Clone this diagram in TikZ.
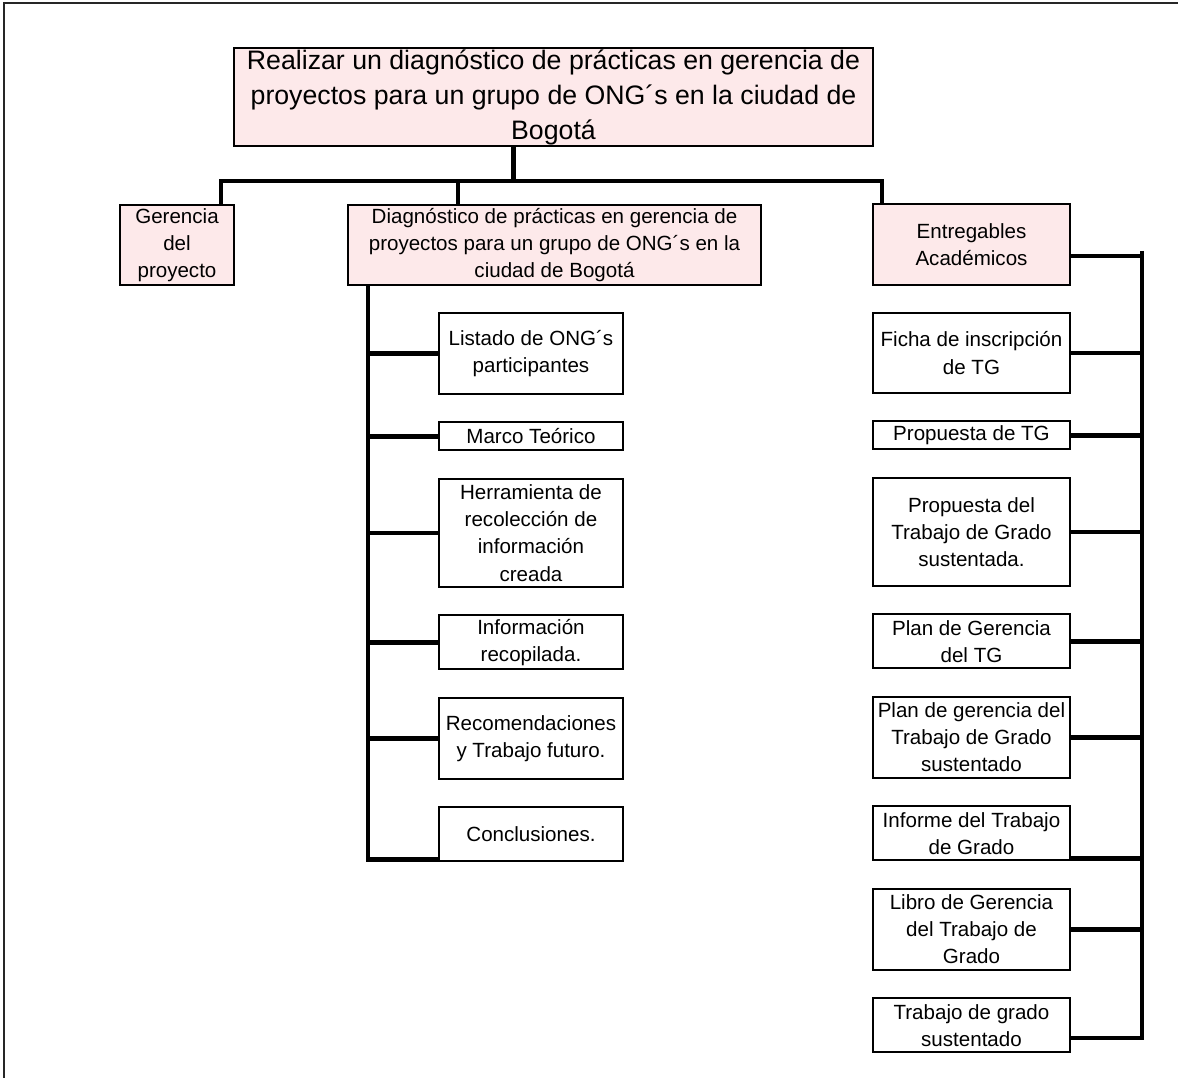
\documentclass[tikz,border=0pt]{standalone}
\usepackage{fontspec}
\setmainfont{Liberation Sans}
\usepackage{tikz}
\usetikzlibrary{positioning}
\definecolor{headpink}{RGB}{253,233,234}

\begin{document}
\begin{tikzpicture}[x=0.02cm, y=-0.02cm, node distance=5.7mm,
    box/.style={draw, line width=0.4mm, align=center, inner sep=0pt, outer sep=0pt, font=\fontsize{11.7pt}{15.5pt}\selectfont},
    head/.style={box, fill=headpink},
    part/.style={box, fill=white, minimum width=36.8mm},
    deliv/.style={box, fill=white, minimum width=39.4mm},
    link/.style={line width=0.9mm}]
    \useasboundingbox (0,0) rectangle (1178,1078);
    % Frame
    \draw[line width=0.4mm, black!85] (4,1078) -- (4,3) -- (1178,3);
    % Levels
    \node[head, minimum width=128mm, minimum height=19.6mm, font=\fontsize{15.2pt}{19.9pt}\selectfont] (obj) at (553.5,97) {Realizar un diagnóstico de prácticas en gerencia de\\proyectos para un grupo de ONG´s en la ciudad de\\Bogotá};
    \node[head, minimum width=22.8mm, minimum height=16mm] (ger) at (177,245) {Gerencia\\del\\proyecto};
    \node[head, minimum width=82.6mm, minimum height=16mm] (diag) at (554.5,245) {Diagnóstico de prácticas en gerencia de\\proyectos para un grupo de ONG´s en la\\ciudad de Bogotá};
    \node[head, minimum width=39.4mm, minimum height=16.2mm] (ent) at (971.5,244.5) {Entregables\\Académicos};
    % Diagnostic parts
    \node[part, anchor=north west, minimum height=16.2mm] (list) at (439,313) {Listado de ONG´s\\participantes};
    \node[part, below=of list, minimum height=5.6mm] (marco) {Marco Teórico};
    \node[part, below=of marco, minimum height=21.6mm] (herr) {Herramienta de\\recolección de\\información\\creada};
    \node[part, below=of herr, minimum height=10.8mm] (info) {Información\\recopilada.};
    \node[part, below=of info, minimum height=16.2mm] (reco) {Recomendaciones\\y Trabajo futuro.};
    \node[part, below=of reco, minimum height=10.8mm] (concl) {Conclusiones.};
    % Academic deliverables
    \node[deliv, anchor=north west, minimum height=16mm] (ficha) at (873,313) {Ficha de inscripción\\de TG};
    \node[deliv, below=of ficha, minimum height=5.6mm] (prop) {Propuesta de TG};
    \node[deliv, below=of prop, minimum height=21.6mm] (propdel) {Propuesta del\\Trabajo de Grado\\sustentada.};
    \node[deliv, below=of propdel, minimum height=10.8mm] (plantg) {Plan de Gerencia\\del TG};
    \node[deliv, below=of plantg, minimum height=16.2mm] (plangr) {Plan de gerencia del\\Trabajo de Grado\\sustentado};
    \node[deliv, below=of plangr, minimum height=10.8mm] (inf) {Informe del Trabajo\\de Grado};
    \node[deliv, below=of inf, minimum height=16.2mm] (libro) {Libro de Gerencia\\del Trabajo de\\Grado};
    \node[deliv, below=of libro, minimum height=10.8mm] (trab) {Trabajo de grado\\sustentado};
    % Connectors: top level
    \path ([xshift=-8mm]obj.south) ++(0,-7mm) coordinate (hub);
    \draw[link] ([xshift=-8mm]obj.south) -- (hub);
    \draw[link] ([xshift=-2.6mm]ger.north east) |- (hub) -| ([xshift=1.8mm]ent.north west);
    \draw[link] ([xshift=22mm]diag.north west) -- ([xshift=22mm]diag.north west |- hub);
    % Connectors: diagnostic
    \coordinate (mbus) at ([xshift=4mm]diag.south west);
    \draw[link] (mbus) |- ([yshift=0.4mm]concl.south west);
    \foreach \n in {list,marco,herr,info,reco}
        \draw[link] (\n.west) -- (\n.west -| mbus);
    % Connectors: deliverables
    \coordinate (rbus) at ([xshift=14.4mm,yshift=-1.3mm]ent.east);
    \draw[link] (rbus) |- ([yshift=-2.5mm]trab.east);
    \draw[link] ([yshift=-2.3mm]ent.east) -- ([yshift=-2.3mm]ent.east -| rbus);
    \foreach \n in {ficha,prop,propdel,plantg,plangr,libro}
        \draw[link] (\n.east) -- (\n.east -| rbus);
    \draw[link] ([yshift=0.4mm]inf.south east) -- ([yshift=0.4mm]inf.south east -| rbus);
\end{tikzpicture}
\end{document}
